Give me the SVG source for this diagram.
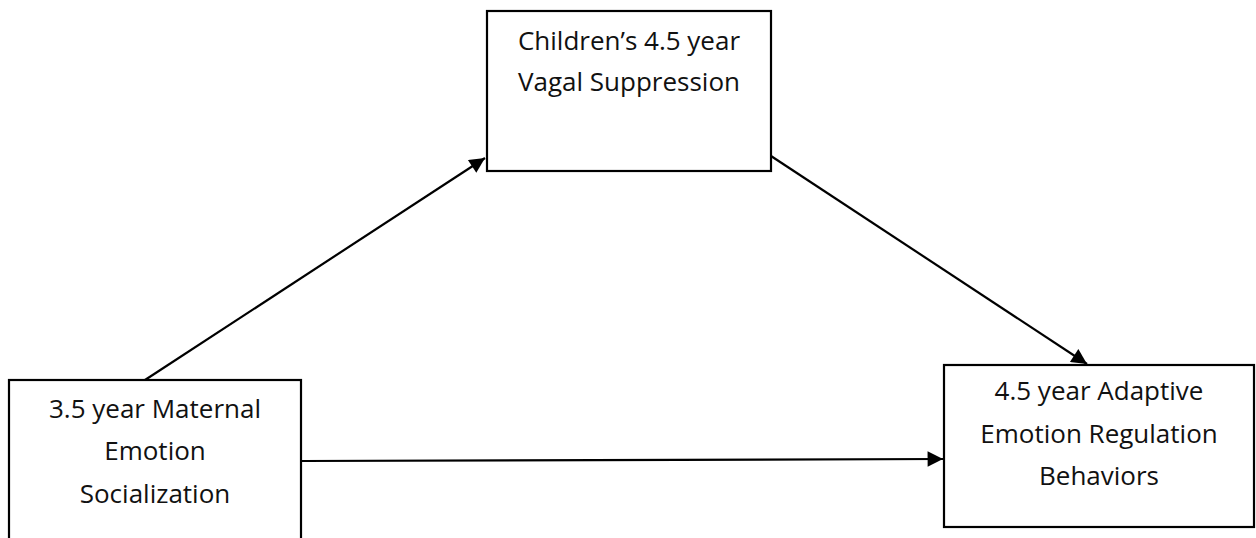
<svg xmlns="http://www.w3.org/2000/svg" width="1256" height="538" viewBox="0 0 1256 538">
<style>
.box{fill:#fff;stroke:#000;stroke-width:2.2}
.lbl{font-family:"Open Sans","Liberation Sans",sans-serif;font-size:26px;fill:#111;text-anchor:middle}
.conn{stroke:#000;stroke-width:2.2;fill:none;marker-end:url(#ah)}
</style>
<defs>
<marker id="ah" viewBox="0 0 10 10" refX="10" refY="5" markerWidth="8" markerHeight="7" markerUnits="strokeWidth" orient="auto">
<path d="M0,0 L10,5 L0,10 z" fill="#000"/>
</marker>
</defs>
<rect width="1256" height="538" fill="#fff"/>
<g id="connectors">
<line class="conn" x1="145" y1="380" x2="485" y2="158"/>
<line class="conn" x1="771" y1="156" x2="1087" y2="364"/>
<line class="conn" x1="301" y1="461" x2="943" y2="459"/>
</g>
<g id="node-vagal">
<rect class="box" x="487" y="11" width="284" height="160"/>
<text class="lbl" x="629" y="50">Children’s 4.5 year</text>
<text class="lbl" x="629" y="91">Vagal Suppression</text>
</g>
<g id="node-maternal">
<rect class="box" x="9" y="380" width="292" height="190"/>
<text class="lbl" x="155" y="418">3.5 year Maternal</text>
<text class="lbl" x="155" y="460">Emotion</text>
<text class="lbl" x="155" y="503">Socialization</text>
</g>
<g id="node-adaptive">
<rect class="box" x="944" y="365" width="310" height="162"/>
<text class="lbl" x="1099" y="400">4.5 year Adaptive</text>
<text class="lbl" x="1099" y="443">Emotion Regulation</text>
<text class="lbl" x="1099" y="485">Behaviors</text>
</g>
</svg>
